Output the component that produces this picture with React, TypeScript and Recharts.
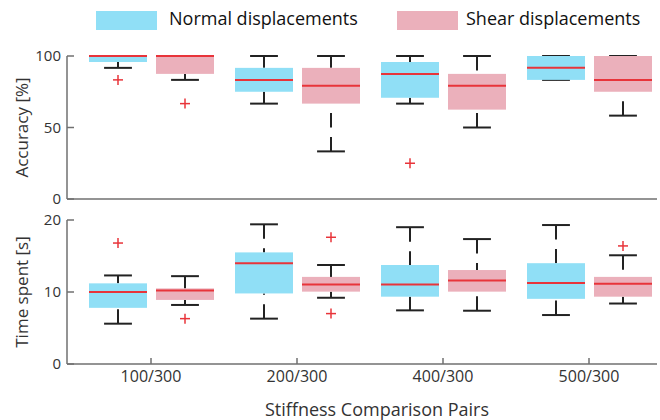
import React from 'react';
import { ComposedChart, Bar, XAxis, YAxis } from 'recharts';

const pairs = ['100/300', '200/300', '400/300', '500/300'];

// [min, q1, median, q3, max]
const accuracyNormal = [
  [91.7, 95.8, 100, 100, 100],
  [66.7, 75, 83.3, 91.7, 100],
  [66.7, 70.8, 87.5, 95.8, 100],
  [83.3, 83.3, 91.7, 100, 100],
];
const accuracyShear = [
  [83.3, 87.5, 100, 100, 100],
  [33.3, 66.7, 79.2, 91.7, 100],
  [50, 62.5, 79.2, 87.5, 100],
  [58.3, 75, 83.3, 100, 100],
];
const accuracyNormalOut = [[83.3], [], [25], []];
const accuracyShearOut = [[66.7], [], [], []];

const timeNormal = [
  [5.6, 7.8, 10.0, 11.2, 12.3],
  [6.3, 9.8, 14.0, 15.5, 19.4],
  [7.45, 9.35, 11.05, 13.75, 19.0],
  [6.8, 9.05, 11.25, 14.0, 19.3],
];
const timeShear = [
  [8.2, 8.9, 10.2, 10.5, 12.2],
  [9.2, 10.05, 11.05, 12.1, 13.75],
  [7.4, 10.05, 11.6, 13.05, 17.35],
  [8.4, 9.35, 11.15, 12.1, 15.1],
];
const timeNormalOut = [[16.8], [], [], []];
const timeShearOut = [[6.3], [17.6, 7.0], [], [16.4]];

const NORMAL = '#90dff6';
const SHEAR = '#ebb0bb';
const MEDIAN = '#e8343a';
const WHISKER = '#222';
const AXIS = '#707070';
const TEXT = '#333';
const FONT = '"Open Sans", sans-serif';

const buildRows = (n: number[][], nOut: number[][], s: number[][], sOut: number[][]) =>
  pairs.map((pair, i) => ({ pair, normal: n[i], normalOut: nOut[i], shear: s[i], shearOut: sOut[i] }));

const accuracyRows = buildRows(accuracyNormal, accuracyNormalOut, accuracyShear, accuracyShearOut);
const timeRows = buildRows(timeNormal, timeNormalOut, timeShear, timeShearOut);

// draws a matlab-style box from the [min, max] bar rect the library gives us
const boxShape = (key: 'normal' | 'shear', fill: string) => (props: any) => {
  const { x, y, width, height, payload } = props;
  const [lo, q1, med, q3, hi] = payload[key];
  const outliers: number[] = payload[key + 'Out'];
  const top = Math.min(y, y + height);
  const h = Math.abs(height);
  const py = (v: number) => top + (h * (hi - v)) / (hi - lo);
  const cx = x + width / 2;
  const cap = width * 0.24;
  const dash = '14.5 9.5';
  return (
    <g>
      <line x1={cx} y1={py(hi)} x2={cx} y2={py(q3)} stroke={WHISKER} strokeWidth={2} strokeDasharray={dash} />
      <line x1={cx} y1={py(lo)} x2={cx} y2={py(q1)} stroke={WHISKER} strokeWidth={2} strokeDasharray={dash} />
      <line x1={cx - cap} y1={py(hi)} x2={cx + cap} y2={py(hi)} stroke={WHISKER} strokeWidth={2} />
      <line x1={cx - cap} y1={py(lo)} x2={cx + cap} y2={py(lo)} stroke={WHISKER} strokeWidth={2} />
      <rect x={x} y={py(q3)} width={width} height={Math.max(py(q1) - py(q3), 0)} fill={fill} />
      <line x1={x} y1={py(med)} x2={x + width} y2={py(med)} stroke={MEDIAN} strokeWidth={2} />
      {outliers.map((v, i) => (
        <g key={i} stroke={MEDIAN} strokeWidth={1.5}>
          <line x1={cx - 5} y1={py(v)} x2={cx + 5} y2={py(v)} />
          <line x1={cx} y1={py(v) - 5} x2={cx} y2={py(v) + 5} />
        </g>
      ))}
    </g>
  );
};

const tickStyle = { fontSize: 16, fill: TEXT, fontFamily: FONT };
const titleStyle = { fontSize: 17, fill: TEXT, fontFamily: FONT, textAnchor: 'middle' as const };

function Panel({ rows, domain, ticks, title, bottom }: any) {
  return (
    <ComposedChart
      width={660}
      height={bottom ? 220 : 212}
      data={rows}
      margin={{ top: bottom ? 20 : 56, right: 3, left: 0, bottom: bottom ? 0 : 12 }}
      barSize={58}
      barGap={9}
    >
      <XAxis
        dataKey="pair"
        height={bottom ? 56 : 1}
        padding={{ left: 11, right: -5 }}
        stroke={AXIS}
        strokeWidth={1.5}
        interval={0}
        tick={bottom ? tickStyle : false}
        tickLine={bottom ? { stroke: AXIS, strokeWidth: 1.5 } : false}
        tickSize={-6}
        tickMargin={13}
        label={
          bottom
            ? { value: 'Stiffness Comparison Pairs', position: 'insideBottom', offset: 4, dx: 15, style: { ...titleStyle, fontSize: 18 } }
            : undefined
        }
      />
      <YAxis
        type="number"
        domain={domain}
        ticks={ticks}
        interval={0}
        width={67}
        stroke={AXIS}
        strokeWidth={1.5}
        tick={{ ...tickStyle, fontSize: 15 }}
        tickLine={{ stroke: AXIS, strokeWidth: 1.5 }}
        tickSize={-7}
        tickMargin={13}
        label={{ value: title, angle: -90, position: 'insideLeft', offset: 22, style: titleStyle }}
      />
      <Bar dataKey={(d: any) => [d.normal[0], d.normal[4]]} shape={boxShape('normal', NORMAL)} isAnimationActive={false} />
      <Bar dataKey={(d: any) => [d.shear[0], d.shear[4]]} shape={boxShape('shear', SHEAR)} isAnimationActive={false} />
    </ComposedChart>
  );
}

export default function App() {
  const legendText = { position: 'absolute' as const, top: 5, fontSize: 18, color: '#111', fontFamily: FONT, lineHeight: '26px' };
  return (
    <div style={{ position: 'absolute', left: 0, top: 0, width: 660, height: 420, background: '#fff' }}>
      <div style={{ position: 'absolute', left: 96, top: 11, width: 61, height: 19, background: NORMAL }} />
      <div style={{ ...legendText, left: 169 }}>Normal displacements</div>
      <div style={{ position: 'absolute', left: 397, top: 11, width: 61, height: 19, background: SHEAR }} />
      <div style={{ ...legendText, left: 466 }}>Shear displacements</div>
      <div style={{ position: 'absolute', left: 0, top: 200 }}>
        <Panel rows={timeRows} domain={[0, 20]} ticks={[0, 10, 20]} title="Time spent [s]" bottom />
      </div>
      <div style={{ position: 'absolute', left: 0, top: 0 }}>
        <Panel rows={accuracyRows} domain={[0, 100]} ticks={[0, 50, 100]} title="Accuracy [%]" />
      </div>
    </div>
  );
}
